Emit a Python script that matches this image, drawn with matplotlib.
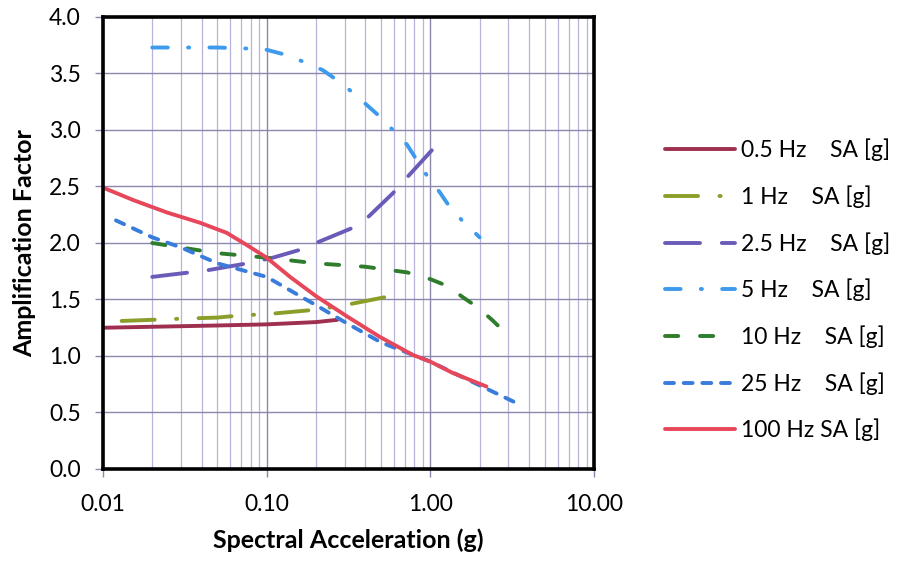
import matplotlib
matplotlib.use("Agg")
import matplotlib.pyplot as plt
from matplotlib.ticker import FixedLocator, NullFormatter, LogLocator

plt.rcParams['font.family'] = ['Lato', 'DejaVu Sans']

# Amplification factor versus spectral acceleration, per frequency
sa_05 = [0.01, 0.05, 0.10, 0.20, 0.27]
af_05 = [1.25, 1.27, 1.28, 1.30, 1.32]

sa_1 = [0.013, 0.03, 0.05, 0.07, 0.10, 0.20, 0.30, 0.57]
af_1 = [1.31, 1.33, 1.34, 1.36, 1.37, 1.41, 1.45, 1.53]

sa_25 = [0.02, 0.034, 0.044, 0.076, 0.109, 0.16, 0.20, 0.33, 0.41, 0.59, 0.72, 1.02]
af_25 = [1.70, 1.74, 1.76, 1.82, 1.87, 1.94, 2.00, 2.13, 2.22, 2.44, 2.58, 2.82]

sa_5 = [0.02, 0.05, 0.08, 0.10, 0.135, 0.17, 0.22, 0.27, 0.33, 0.41, 0.49,
        0.59, 0.72, 0.83, 0.95, 1.14, 1.27, 1.56, 2.0]
af_5 = [3.73, 3.73, 3.72, 3.71, 3.66, 3.60, 3.53, 3.44, 3.34, 3.22, 3.12,
        3.00, 2.87, 2.73, 2.60, 2.45, 2.35, 2.20, 2.05]

sa_10 = [0.02, 0.05, 0.10, 0.20, 0.40, 0.72, 1.00, 1.27, 1.58, 1.95, 2.38, 2.76]
af_10 = [2.00, 1.91, 1.87, 1.82, 1.79, 1.74, 1.68, 1.62, 1.52, 1.43, 1.32, 1.23]

sa_25hz = [0.012, 0.02, 0.03, 0.05, 0.10, 0.20, 0.30, 0.50, 1.00, 2.00, 3.40]
af_25hz = [2.20, 2.05, 1.96, 1.82, 1.70, 1.45, 1.30, 1.12, 0.95, 0.74, 0.58]

sa_100 = [0.01, 0.0153, 0.0246, 0.039, 0.057, 0.076, 0.10, 0.139, 0.20,
          0.31, 0.49, 0.78, 1.00, 1.37, 2.20]
af_100 = [2.49, 2.38, 2.27, 2.18, 2.09, 1.98, 1.87, 1.70, 1.53,
          1.35, 1.17, 1.01, 0.95, 0.85, 0.73]

labels = ["0.5 Hz    SA [g]", "1 Hz    SA [g]", "2.5 Hz    SA [g]",
          "5 Hz    SA [g]", "10 Hz    SA [g]", "25 Hz    SA [g]",
          "100 Hz SA [g]"]

x_ticks = [0.01, 0.1, 1.0, 10.0]
x_ticklabels = ["0.01", "0.10", "1.00", "10.00"]
y_ticks = [0.0, 0.5, 1.0, 1.5, 2.0, 2.5, 3.0, 3.5, 4.0]

fig = plt.figure(figsize=(8.98, 5.61), dpi=100)
ax = fig.add_axes([0.1147, 0.164, 0.5468, 0.8057])

lw = 2.8
series = [
    (sa_05, af_05, "#9E2F4E", "-"),
    (sa_1, af_1, "#8A9E2A", (0, (8.5, 5.5, 0.3, 5.5))),
    (sa_25, af_25, "#6B5BB8", (0, (9.0, 5.6))),
    (sa_5, af_5, "#3D9AEC", (0, (4.0, 5.2, 0.3, 5.2))),
    (sa_10, af_10, "#2E7D2C", (0, (3.4, 5.6))),
    (sa_25hz, af_25hz, "#3A7CDC", (0, (2.3, 2.5))),
    (sa_100, af_100, "#E6475A", "-"),
]
for (xs, ys, c, ls), lab in zip(series, labels):
    ax.plot(xs, ys, color=c, linestyle=ls, linewidth=lw,
            dash_capstyle='round', solid_capstyle='round',
            solid_joinstyle='round', label=lab)

ax.set_xscale('log')
ax.set_xlim(0.01, 10)
ax.set_ylim(0, 4)
ax.xaxis.set_major_locator(FixedLocator(x_ticks))
ax.set_xticklabels(x_ticklabels)
ax.xaxis.set_minor_locator(LogLocator(base=10, subs=range(2, 10)))
ax.xaxis.set_minor_formatter(NullFormatter())
ax.set_yticks(y_ticks)
ax.set_yticklabels([f"{v:.1f}" for v in y_ticks])

ax.grid(True, which='major', color='#8C88AC', linewidth=1.0)
ax.grid(True, which='minor', axis='x', color='#B7B3DA', linewidth=0.9)
ax.set_axisbelow(True)

for s in ax.spines.values():
    s.set_linewidth(2.6)
    s.set_color('black')

ax.tick_params(axis='both', which='major', direction='out', length=6,
               width=1.0, color='#8C88AC', labelsize=16.5)
ax.tick_params(axis='y', pad=10)
ax.tick_params(axis='x', pad=12)
ax.tick_params(axis='x', which='minor', length=0)

ax.set_xlabel("Spectral Acceleration (g)", fontsize=18, fontweight='bold', labelpad=10)
ax.set_ylabel("Amplification Factor", fontsize=18, fontweight='bold', labelpad=9)

fig.legend(loc='center left', bbox_to_anchor=(0.7305, 0.483), frameon=False,
           borderaxespad=0, fontsize=16.5, handlelength=3.05,
           handletextpad=0.26, labelspacing=1.05)

fig.savefig("out.png", dpi=100)
